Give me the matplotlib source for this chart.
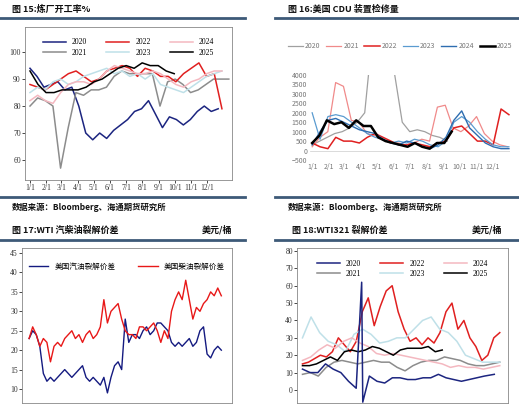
import numpy as np
import matplotlib
matplotlib.use("Agg")
import matplotlib.pyplot as plt
from matplotlib.lines import Line2D

plt.rcParams['font.family'] = ['Noto Sans CJK SC', 'DejaVu Sans']

W, H = 519, 407
fig = plt.figure(figsize=(W/100, H/100), dpi=100)

def ax_px(x0, y0, x1, y1):
    return fig.add_axes([x0/W, 1-y1/H, (x1-x0)/W, (y1-y0)/H])

month_days = [0, 31, 59, 90, 120, 151, 181, 212, 243, 273, 304, 334]
month_labels = ["1/1", "2/1", "3/1", "4/1", "5/1", "6/1", "7/1", "8/1", "9/1", "10/1", "11/1", "12/1"]

# ---------- Panel 15: refinery utilisation ----------
util = {
    "2020": [94, 91, 87, 88, 89, 86, 87, 80, 70, 67.5, 70, 68, 71, 73, 75, 78, 79, 82, 77, 72, 76, 75, 73, 75, 78, 80, 78, 79],
    "2021": [80, 83, 82, 80, 57, 72, 85, 84, 86, 86, 87, 91, 93, 92, 92, 92, 92, 80, 89, 90, 88, 85, 86, 88, 90, 90, 90],
    "2022": [88, 87, 86, 88, 90, 92, 93, 91, 89, 90, 93, 94, 95, 94, 91, 94, 93, 91, 91, 89, 92, 94, 96, 91, 92, 79],
    "2023": [85, 87, 86, 89, 90, 88, 89, 91, 92, 93, 94, 92, 93, 91, 92, 90, 92, 88, 87, 86, 85, 87, 89, 91, 92, 93],
    "2024": [82, 84, 82, 81, 85, 88, 89, 89, 88, 90, 93, 95, 94, 93, 92, 92, 93, 92, 90, 88, 87, 89, 90, 92, 93, 93],
    "2025": [93, 88, 85, 85, 86, 86, 86, 87, 89, 90, 92, 94, 95, 94, 96, 95, 95, 93, 92],
}
util_end = {"2020": 355, "2021": 375, "2022": 362, "2023": 362, "2024": 362, "2025": 272}
c1 = {"2020": "#1c2580", "2021": "#8c8c8c", "2022": "#e02020", "2023": "#bfe0e8", "2024": "#f4b8c0", "2025": "#000000"}

ax1 = ax_px(25, 27, 232, 180)
for k, v in util.items():
    x = np.linspace(0, util_end[k], len(v))
    ax1.plot(x, v, color=c1[k], lw=1.1, label=k)
ax1.set_xlim(-9.4, 381)
ax1.set_ylim(52.6, 109.3)
ax1.set_yticks([60, 70, 80, 90, 100])
ax1.set_xticks(month_days)
ax1.set_xticklabels(month_labels)
for lab in ax1.get_xticklabels() + ax1.get_yticklabels():
    lab.set_family('Liberation Serif'); lab.set_fontsize(5.5); lab.set_color('#333333')
ax1.tick_params(length=2, width=0.5, pad=1)
for s in ax1.spines.values():
    s.set_color('#888888'); s.set_linewidth(0.6)
h, l = ax1.get_legend_handles_labels()
leg = ax1.legend(h, l, ncol=3, loc='upper center', frameon=False, fontsize=5.5,
                 handlelength=3, columnspacing=2.5, labelspacing=0.3, bbox_to_anchor=(0.5, 0.97))
for t in leg.get_texts():
    t.set_family('Liberation Serif')

# ---------- Panel 16: CDU outages ----------
cdu = {
    "2020": [300, 500, 700, 900, 1000, 1200, 1500, 2000, 6000, 6000, 6000, 4000, 1500, 1000, 1100, 1000, 800, 700, 500],
    "2021": [200, 700, 1000, 3600, 3400, 1600, 1500, 900, 800, 600, 400, 400, 300, 400, 600, 500, 2300, 2400, 1200, 1000, 1300, 1800, 900, 500, 300, 200],
    "2022": [400, 200, 100, 700, 500, 500, 400, 700, 900, 700, 500, 300, 300, 400, 300, 200, 400, 500, 1200, 1300, 900, 500, 500, 300, 2200, 1900],
    "2023": [2000, 600, 1800, 1900, 1800, 1500, 1200, 900, 700, 600, 400, 500, 400, 600, 500, 300, 200, 500, 1500, 1800, 1500, 1000, 600, 300, 200, 200],
    "2024": [300, 1000, 1600, 1700, 1500, 1300, 1100, 1000, 900, 600, 400, 300, 500, 400, 200, 100, 300, 700, 1600, 2100, 1200, 800, 400, 200, 100, 100],
    "2025": [400, 800, 1600, 1400, 1500, 1200, 1600, 1300, 1300, 700, 500, 400, 300, 200, 400, 200, 100, 400, 400, 1000],
}
cdu_end = {"2020": 250, "2021": 362, "2022": 364, "2023": 364, "2024": 364, "2025": 258}
c2 = {"2020": "#a0a0a0", "2021": "#f08a8a", "2022": "#e02020", "2023": "#5a9bd0", "2024": "#2e6db0", "2025": "#000000"}
lw2 = {"2020": 0.9, "2021": 0.9, "2022": 1.1, "2023": 0.9, "2024": 1.0, "2025": 1.8}

ax2 = ax_px(310, 75, 510, 160)
for k, v in cdu.items():
    x = np.linspace(0, cdu_end[k], len(v))
    ax2.plot(x, v, color=c2[k], lw=lw2[k], label=k)
ax2.set_xlim(-4, 366)
ax2.set_ylim(-500, 4000)
ax2.set_yticks(np.arange(-500, 4001, 500))
ax2.set_xticks(month_days)
ax2.set_xticklabels(month_labels)
ax2.tick_params(length=0, labelsize=5, labelcolor='#777777', pad=2)
for s in ax2.spines.values():
    s.set_visible(False)
ax2.axhline(0, color='#cccccc', lw=0.5, zorder=0)
ax2.legend(ncol=6, loc='lower center', bbox_to_anchor=(0.45, 1.22), frameon=False, fontsize=5,
           handlelength=2.2, columnspacing=0.8, handletextpad=0.3, labelcolor='#777777')

# ---------- Panel 17: gasoline / diesel crack ----------
gasoline = [23, 25, 24, 21, 14, 12, 13, 12, 13, 14, 15, 14, 13, 14, 15, 16, 13, 12, 13, 12, 11, 13, 9, 13, 16, 17, 15, 28,
            22, 24, 24, 23, 25, 26, 24, 25, 27, 27, 26, 25, 22, 21, 22, 21, 22, 23, 21, 22, 25, 26, 19, 18, 20, 21, 20]
diesel = [23, 26, 24, 21, 23, 22, 17, 21, 22, 21, 23, 24, 25, 23, 24, 22, 24, 25, 23, 24, 26, 33, 27, 30, 31, 32, 28, 25,
          24, 24, 23, 26, 26, 25, 26, 27, 25, 22, 25, 23, 30, 33, 35, 33, 38, 33, 28, 31, 30, 32, 33, 35, 34, 36, 34]
ax3 = ax_px(22, 248, 232, 403)
ax3.plot(np.arange(len(gasoline)), gasoline, color='#141a80', lw=1.0, label='美国汽油裂解价差')
ax3.plot(np.arange(len(diesel)), diesel, color='#e81818', lw=1.0, label='美国柴油裂解价差')
ax3.set_xlim(-2, len(diesel) + 2)
ax3.set_ylim(6.4, 46.3)
ax3.set_yticks([10, 15, 20, 25, 30, 35, 40, 45])
ax3.set_xticks([])
for lab in ax3.get_yticklabels():
    lab.set_family('Liberation Serif'); lab.set_fontsize(5.5); lab.set_color('#333333')
ax3.tick_params(length=2, width=0.5, pad=1)
for s in ax3.spines.values():
    s.set_color('#888888'); s.set_linewidth(0.6)
ax3.legend(ncol=2, loc='upper center', frameon=False, fontsize=5.5, handlelength=2.5,
           columnspacing=3, bbox_to_anchor=(0.5, 0.95))

# ---------- Panel 18: WTI 321 crack ----------
crack = {
    "2020": [12, 10, 10, 15, 12, 10, 5, 1, 62, -7, 8, 5, 4, 7, 7, 6, 6, 7, 7, 9, 7, 6, 5, 6, 7, 8, 9],
    "2021": [9, 10, 8, 13, 16, 17, 16, 15, 16, 17, 16, 16, 13, 11, 14, 16, 17, 17, 19, 18, 17, 15, 14, 14, 15, 16],
    "2022": [15, 16, 18, 20, 19, 22, 30, 26, 22, 28, 45, 53, 37, 48, 57, 60, 45, 35, 28, 30, 26, 30, 27, 33, 45, 50, 35, 40, 30, 25, 17, 20, 30, 33],
    "2023": [30, 42, 33, 28, 26, 22, 32, 35, 32, 27, 28, 30, 30, 35, 40, 42, 35, 33, 28, 20, 18, 16, 16, 16],
    "2024": [17, 19, 23, 26, 24, 28, 30, 27, 25, 21, 20, 21, 20, 19, 18, 17, 16, 15, 13, 14, 13, 13, 12, 13, 14],
    "2025": [14, 14, 15, 17, 19, 17, 22, 23, 22, 23, 25, 24, 22, 20, 23, 24, 24, 24, 25, 22, 23],
}
crack_days = {
    "2020": [0, 14, 28, 42, 56, 70, 84, 98, 108, 110, 122, 136, 150, 164, 178, 192, 206, 220, 234, 248, 262, 276, 290, 304, 318, 332, 350],
}
crack_end = {"2021": 360, "2022": 360, "2023": 360, "2024": 360, "2025": 255}
ax4 = ax_px(297, 248, 508, 403)
for k, v in crack.items():
    x = crack_days[k] if k in crack_days else np.linspace(0, crack_end[k], len(v))
    ax4.plot(x, v, color=c1[k], lw=1.1, label=k, zorder=3 if k == "2020" else 2)
ax4.set_xlim(-10, 375)
ax4.set_ylim(-7.5, 81.7)
ax4.set_yticks(np.arange(0, 81, 10))
ax4.set_xticks([])
for lab in ax4.get_yticklabels():
    lab.set_family('Liberation Serif'); lab.set_fontsize(5.5); lab.set_color('#333333')
ax4.tick_params(length=2, width=0.5, pad=1)
for s in ax4.spines.values():
    s.set_color('#888888'); s.set_linewidth(0.6)
h, l = ax4.get_legend_handles_labels()
leg = ax4.legend(h, l, ncol=3, loc='upper center', frameon=False, fontsize=5.5,
                 handlelength=3, columnspacing=2.5, labelspacing=0.3, bbox_to_anchor=(0.5, 0.97))
for t in leg.get_texts():
    t.set_family('Liberation Serif')

# ---------- titles & bars ----------
def hline(x0, x1, y, lw=2.0):
    fig.add_artist(Line2D([x0/W, x1/W], [1-y/H, 1-y/H], color='#3d5a78', lw=lw))

def txt(x, y, s, ha='left', size=6.5):
    fig.text(x/W, 1-y/H, s, ha=ha, va='center', fontsize=size, fontweight='bold', color='#111111')

txt(12, 9, "图 15:炼厂开工率%")
txt(288, 9, "图 16:美国 CDU 装置检修量")
hline(0, 245, 18); hline(275, 519, 18)
hline(0, 245, 197); hline(275, 519, 197)
txt(12, 207, "数据来源：Bloomberg、海通期货研究所", size=6)
txt(288, 207, "数据来源：Bloomberg、海通期货研究所", size=6)
txt(12, 230, "图 17:WTI 汽柴油裂解价差")
txt(232, 230, "美元/桶", ha='right')
txt(292, 230, "图 18:WTI321 裂解价差")
txt(502, 230, "美元/桶", ha='right')
hline(0, 245, 240); hline(275, 519, 240)

fig.savefig("out.png", dpi=100)
